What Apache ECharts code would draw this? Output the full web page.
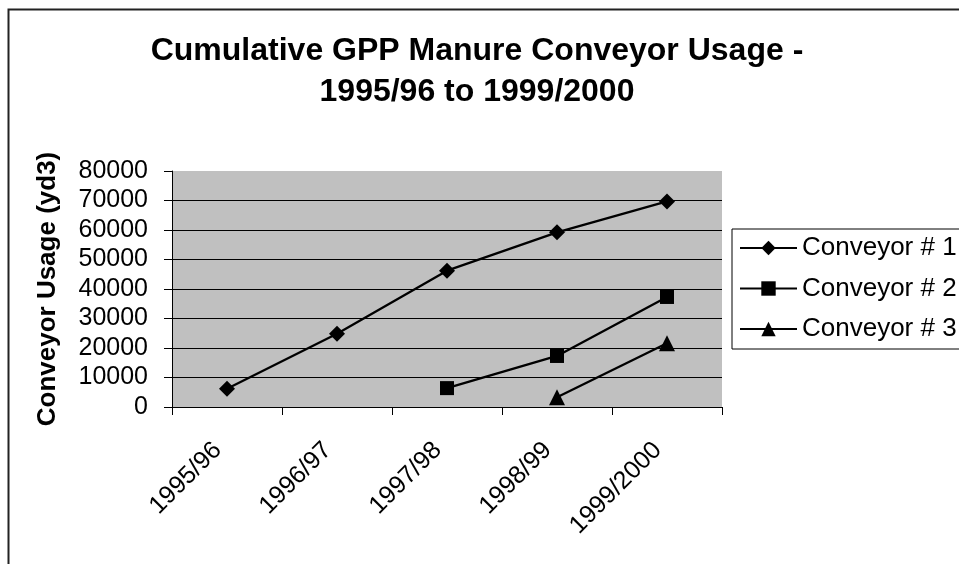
<!DOCTYPE html>
<html>
<head>
<meta charset="utf-8">
<title>Cumulative GPP Manure Conveyor Usage</title>
<script src="https://cdn.jsdelivr.net/npm/echarts@6/dist/echarts.min.js"></script>
<style>
    html, body { margin: 0; padding: 0; background: #fff; }
    #chart { width: 959px; height: 564px; }
</style>
</head>
<body>
<div id="chart"></div>
<script>
//数据
const years = ['1995/96', '1996/97', '1997/98', '1998/99', '1999/2000']
const conveyor1 = [6200, 24800, 46200, 59200, 69700]
const conveyor2 = [null, null, 6400, 17300, 37300]
const conveyor3 = [null, null, null, 3300, 21600]
const yTicks = [0, 10000, 20000, 30000, 40000, 50000, 60000, 70000, 80000]

const font = "'Liberation Sans', Arial, sans-serif"

//网格线颜色  最上面一条不画
const gridColors = yTicks.map(function (v, i) {
    return i === yTicks.length - 1 ? '#c0c0c0' : '#000'
})

function line(name, data, symbol, size) {
    return {
        name: name,
        type: 'line',
        data: data,
        symbol: symbol,
        symbolSize: size,
        connectNulls: false,
        lineStyle: { color: '#000', width: 2.3 },
        itemStyle: { color: '#000' },
        animation: false
    }
}

const options = {
    backgroundColor: '#fff',
    title: {
        text: 'Cumulative GPP Manure Conveyor Usage -\n1995/96 to 1999/2000',
        left: 472,
        top: 26,
        textAlign: 'center',
        textStyle: {
            fontFamily: font,
            fontSize: 32,
            fontWeight: 'bold',
            color: '#000',
            lineHeight: 41
        }
    },
    legend: {
        orient: 'vertical',
        left: 732,
        top: 229,
        padding: [4, 60, 5, 7],
        itemWidth: 57,
        itemHeight: 18,
        itemGap: 10.5,
        borderColor: '#000',
        borderWidth: 1,
        backgroundColor: '#fff',
        lineStyle: { width: 2 },
        textStyle: { fontFamily: font, fontSize: 26, color: '#000', lineHeight: 30 },
        data: ['Conveyor # 1', 'Conveyor # 2', 'Conveyor # 3']
    },
    grid: {
        left: 172,
        right: 237,
        top: 171,
        bottom: 157,
        show: true,
        backgroundColor: '#c0c0c0',
        borderWidth: 0
    },
    xAxis: {
        type: 'category',
        data: years,
        boundaryGap: true,
        axisLine: { lineStyle: { color: '#000', width: 1 } },
        axisTick: { show: true, length: 8, lineStyle: { color: '#000' } },
        axisLabel: {
            rotate: 45,
            interval: 0,
            margin: 30,
            padding: [0, 13, 0, 0],
            fontFamily: font,
            fontSize: 25,
            color: '#000'
        }
    },
    yAxis: {
        type: 'value',
        min: 0,
        max: 80000,
        interval: 10000,
        name: 'Conveyor Usage (yd3)',
        nameLocation: 'middle',
        nameRotate: 90,
        nameGap: 111,
        nameTextStyle: { fontFamily: font, fontSize: 26, fontWeight: 'bold', color: '#000' },
        axisLine: { show: true, lineStyle: { color: '#000', width: 1 } },
        axisTick: { show: true, length: 8, lineStyle: { color: '#000' } },
        axisLabel: {
            margin: 24,
            fontFamily: font,
            fontSize: 25,
            color: '#000',
            formatter: function (v) { return String(v) }   //不要千分位逗号
        },
        splitLine: { show: true, lineStyle: { color: gridColors, width: 1 } }
    },
    graphic: [{
        //外框
        type: 'rect',
        left: 6,
        top: 7,
        shape: { width: 1000, height: 600 },
        style: { fill: null, stroke: '#222', lineWidth: 2 },
        silent: true
    }],
    series: [
        line('Conveyor # 1', conveyor1, 'diamond', 16),
        line('Conveyor # 2', conveyor2, 'rect', 14),
        line('Conveyor # 3', conveyor3, 'triangle', 16)
    ]
}

let chart = echarts.init(document.getElementById('chart'))
chart.setOption(options)
</script>
</body>
</html>
